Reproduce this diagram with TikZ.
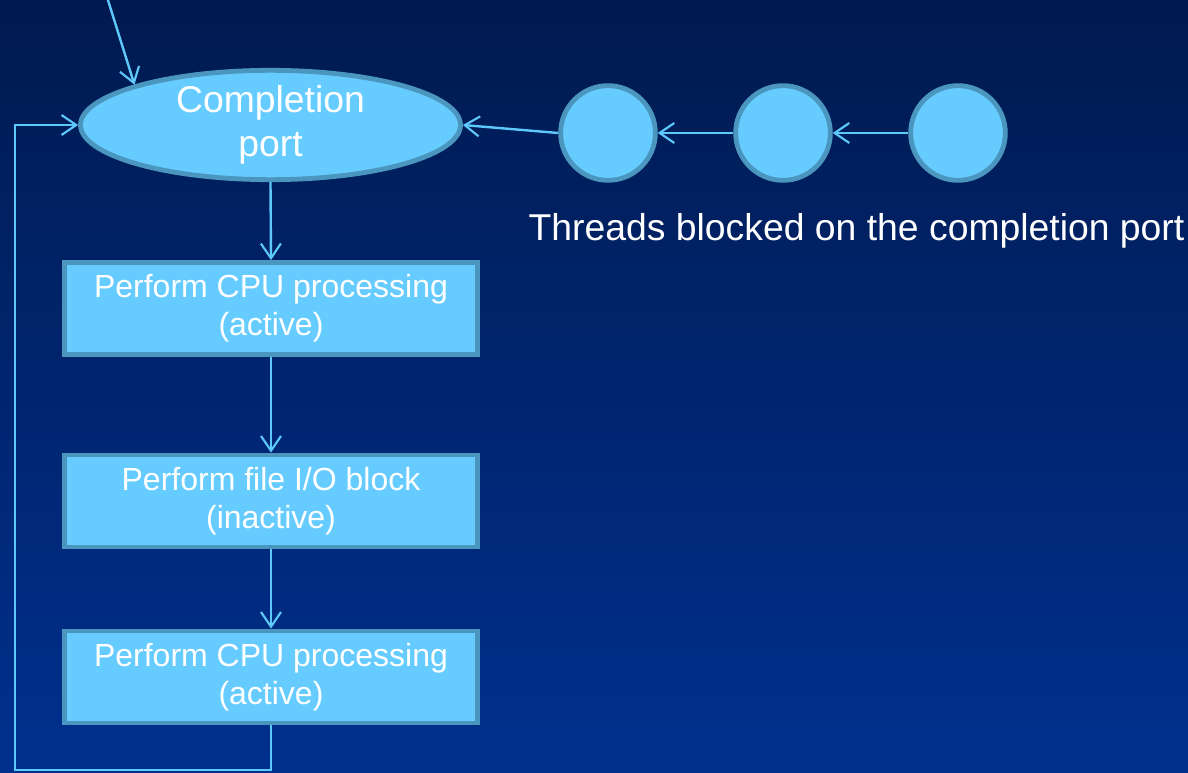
\documentclass[tikz,border=0pt]{standalone}
\usepackage{fontspec}
\setmainfont{Liberation Sans}
\usetikzlibrary{shapes.geometric,arrows.meta}
\definecolor{portfill}{HTML}{66CCFF}
\definecolor{portedge}{HTML}{4B96BF}
\definecolor{flowline}{HTML}{5EC8FA}
\definecolor{bgtop}{HTML}{001A50}
\definecolor{bgbottom}{HTML}{00308E}
\tikzset{
  portnode/.style={ellipse, draw=portedge, fill=portfill, line width=3.6pt,
    minimum width=285pt, minimum height=82pt, inner sep=-6pt, text=white,
    align=center, font=\fontsize{28}{33}\selectfont},
  threadnode/.style={circle, draw=portedge, fill=portfill, line width=3.6pt,
    minimum size=71pt, inner sep=0pt},
  stepbox/.style={rectangle, draw=portedge, fill=portfill, line width=3.6pt,
    minimum width=310pt, minimum height=69pt, inner sep=0pt, text=white,
    align=center, font=\fontsize{24}{28.5}\selectfont},
  flowarrow/.style={draw=flowline, line width=1.8pt,
    -{Straight Barb[length=11pt,width=15pt,line width=1.6pt]}}
}
\begin{document}
\begin{tikzpicture}[x=0.75pt,y=0.75pt]
        % background
        \useasboundingbox (0,0) rectangle (1188,-773);
        \fill[top color=bgtop, bottom color=bgbottom] (0,0) rectangle (1188,-773);

        % port and waiting threads
        \node[portnode] (port) at (270.5,-125) {Completion\\port};
        \node[threadnode] (thread1) at (608,-133) {};
        \node[threadnode] (thread2) at (783,-133) {};
        \node[threadnode] (thread3) at (958,-133) {};
        \node[text=white, font=\fontsize{28}{32}\selectfont] (threadlabel) at (856.5,-231)
            {Threads blocked on the completion port};

        % processing steps
        \node[stepbox] (cpu1) at (271,-308.5) {Perform CPU processing\\(active)};
        \node[stepbox] (fileio) at (271,-501) {Perform file I/O block\\(inactive)};
        \node[stepbox] (cpu2) at (271,-677) {Perform CPU processing\\(active)};

        % arrows
        \coordinate (topin) at (107,3);
        \coordinate (loopcorner) at (15,-770);
        \draw[flowarrow] (topin) -- (port.north west);
        \draw[flowarrow] (thread1.west) -- (port.east);
        \draw[flowarrow] (thread2.west) -- (thread1.east);
        \draw[flowarrow] (thread3.west) -- (thread2.east);
        \draw[flowarrow] (port.south) -- (cpu1.north);
        \draw[flowarrow] (cpu1.south) -- (fileio.north);
        \draw[flowarrow] (fileio.south) -- (cpu2.north);
        \draw[flowarrow] (cpu2.south) |- (loopcorner) |- (port.west);

    \end{tikzpicture}
\end{document}
